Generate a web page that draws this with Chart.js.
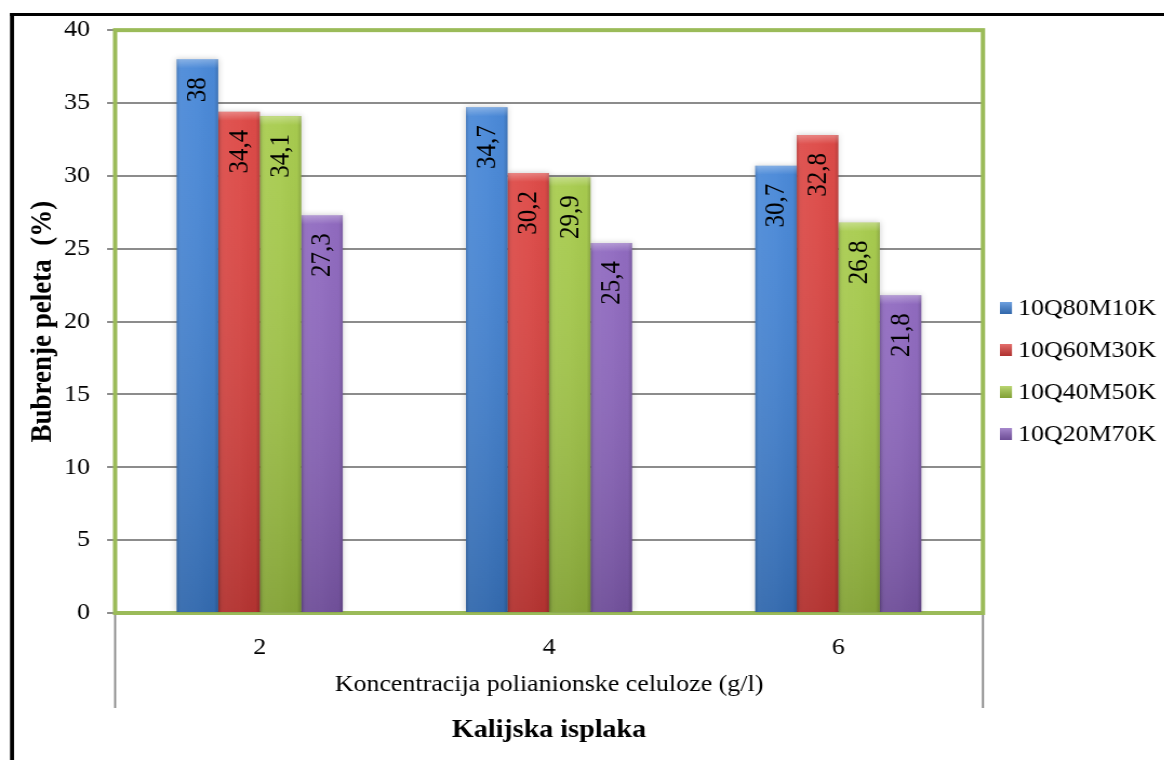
<!DOCTYPE html>
<html>
<head>
<meta charset="utf-8">
<script src="https://cdn.jsdelivr.net/npm/chart.js@4.4.1/dist/chart.umd.min.js"></script>
<style>
  html, body { margin: 0; padding: 0; background: #fff; overflow: hidden; }
  #wrap { position: absolute; left: 0; top: 0; height: 760px; transform-origin: 0 0; }
</style>
</head>
<body>
<div id="wrap"><canvas id="chart"></canvas></div>
<script>
// chart values
const categories = ['2', '4', '6'];
const seriesNames = ['10Q80M10K', '10Q60M30K', '10Q40M50K', '10Q20M70K'];
const q80 = [38, 34.7, 30.7];
const q60 = [34.4, 30.2, 32.8];
const q40 = [34.1, 29.9, 26.8];
const q20 = [27.3, 25.4, 21.8];
const yMin = 0, yMax = 40, yStep = 5;
const yTitle = 'Bubrenje peleta  (%)';
const xTitle = 'Koncentracija polianionske celuloze (g/l)';
const bottomTitle = 'Kalijska isplaka';

const colors = ['#3f82d6', '#dc3f3c', '#a3c944', '#8a62bd'];

// the original picture is a bit stretched sideways, so draw narrow and stretch
const S = 1.08;
const W = 1164 / S;
const wrap = document.getElementById('wrap');
wrap.style.width = W + 'px';
wrap.style.transform = 'scaleX(' + S + ')';

const FONT = "'Liberation Serif', 'Times New Roman', serif";

function fmt(v) {
  return String(v).replace('.', ',');
}

const decor = {
  id: 'decor',
  beforeDraw(chart) {
    const ctx = chart.ctx;
    ctx.save();
    ctx.fillStyle = '#fff';
    ctx.fillRect(0, 0, chart.width, chart.height);
    // black frame, left and top
    ctx.fillStyle = '#000';
    ctx.fillRect(10 / S, 13, 4 / S, chart.height);
    ctx.fillRect(10 / S, 13, chart.width, 3);
    ctx.restore();
  },
  beforeDatasetsDraw(chart) {
    const ctx = chart.ctx;
    const a = chart.chartArea;
    ctx.save();
    // category frame lines under the axis
    ctx.strokeStyle = '#8a8a8a';
    ctx.lineWidth = 2 / S;
    ctx.beginPath();
    ctx.moveTo(a.left, a.bottom);
    ctx.lineTo(a.left, 708);
    ctx.moveTo(a.right, a.bottom);
    ctx.lineTo(a.right, 708);
    ctx.stroke();
    // green plot border
    ctx.strokeStyle = '#9bbb59';
    ctx.lineWidth = 4;
    ctx.strokeRect(a.left, a.top, a.right - a.left, a.bottom - a.top);
    ctx.restore();
    ctx.save();
    ctx.shadowColor = 'rgba(0,0,0,0.2)';
    ctx.shadowBlur = 6;
  },
  afterDatasetsDraw(chart) {
    const ctx = chart.ctx;
    ctx.restore();
    ctx.save();
    chart.data.datasets.forEach((ds, di) => {
      const meta = chart.getDatasetMeta(di);
      meta.data.forEach((bar, i) => {
        const left = bar.x - bar.width / 2;
        const top = bar.y;
        const h = bar.base - bar.y;
        // sideways shading
        let g = ctx.createLinearGradient(left, 0, left + bar.width, 0);
        g.addColorStop(0, 'rgba(0,0,0,0.16)');
        g.addColorStop(0.1, 'rgba(255,255,255,0.06)');
        g.addColorStop(0.5, 'rgba(255,255,255,0.03)');
        g.addColorStop(0.9, 'rgba(0,0,0,0.02)');
        g.addColorStop(1, 'rgba(0,0,0,0.18)');
        ctx.fillStyle = g;
        ctx.fillRect(left, top, bar.width, h);
        // top to bottom shading
        g = ctx.createLinearGradient(0, top, 0, bar.base);
        g.addColorStop(0, 'rgba(255,255,255,0.06)');
        g.addColorStop(1, 'rgba(0,0,0,0.18)');
        ctx.fillStyle = g;
        ctx.fillRect(left, top, bar.width, h);
        // bevel cap
        g = ctx.createLinearGradient(0, top, 0, top + 9);
        g.addColorStop(0, 'rgba(255,255,255,0.3)');
        g.addColorStop(1, 'rgba(255,255,255,0)');
        ctx.fillStyle = g;
        ctx.fillRect(left, top, bar.width, 9);
        // value label, rotated, near the top inside the bar
        ctx.save();
        ctx.translate(bar.x, top + 18);
        ctx.scale(1 / S, 1);
        ctx.rotate(-Math.PI / 2);
        ctx.scale(1, S);
        ctx.fillStyle = '#000';
        ctx.font = '25px ' + FONT;
        ctx.textAlign = 'right';
        ctx.textBaseline = 'middle';
        ctx.fillText(fmt(ds.data[i]), 0, 1);
        ctx.restore();
      });
    });
    ctx.restore();
  },
  afterDraw(chart) {
    const ctx = chart.ctx;
    const a = chart.chartArea;
    ctx.save();
    ctx.fillStyle = '#000';
    // y title
    ctx.save();
    ctx.translate(43 / S, (a.top + a.bottom) / 2);
    ctx.scale(1 / S, 1);
    ctx.rotate(-Math.PI / 2);
    ctx.scale(1, S);
    ctx.font = 'bold 27px ' + FONT;
    ctx.textAlign = 'center';
    ctx.textBaseline = 'middle';
    ctx.fillText(yTitle, 0, 0);
    ctx.restore();
    // x titles
    ctx.textAlign = 'center';
    ctx.textBaseline = 'alphabetic';
    ctx.font = '24px ' + FONT;
    ctx.fillText(xTitle, (a.left + a.right) / 2, 691);
    ctx.font = 'bold 26px ' + FONT;
    ctx.fillText(bottomTitle, (a.left + a.right) / 2, 737);
    // legend
    ctx.font = '24px ' + FONT;
    ctx.textAlign = 'left';
    ctx.textBaseline = 'middle';
    chart.data.datasets.forEach((ds, di) => {
      const cy = 308 + di * 42;
      const x0 = 999 / S;
      ctx.fillStyle = ds.backgroundColor;
      ctx.fillRect(x0, cy - 6, 12 / S, 12);
      const g = ctx.createLinearGradient(0, cy - 6, 0, cy + 6);
      g.addColorStop(0, 'rgba(255,255,255,0.25)');
      g.addColorStop(1, 'rgba(0,0,0,0.2)');
      ctx.fillStyle = g;
      ctx.fillRect(x0, cy - 6, 12 / S, 12);
      ctx.fillStyle = '#000';
      ctx.fillText(ds.label, 1017 / S, cy + 1);
    });
    ctx.restore();
  }
};

const seriesData = [q80, q60, q40, q20];

new Chart(document.getElementById('chart'), {
  type: 'bar',
  data: {
    labels: categories,
    datasets: seriesNames.map((name, k) => ({
      label: name,
      data: seriesData[k],
      backgroundColor: colors[k],
      borderWidth: 0,
      categoryPercentage: 0.574,
      barPercentage: 1.0
    }))
  },
  options: {
    responsive: true,
    maintainAspectRatio: false,
    animation: false,
    layout: { padding: { top: 30, right: 182 / S, left: 0, bottom: 0 } },
    plugins: {
      legend: { display: false },
      tooltip: { enabled: false }
    },
    scales: {
      x: {
        grid: { display: false },
        border: { display: false },
        ticks: { color: '#000', font: { family: FONT, size: 24 }, padding: 12 },
        afterFit: function(scale) { scale.height = 147; }
      },
      y: {
        min: yMin,
        max: yMax,
        ticks: { stepSize: yStep, color: '#000', font: { family: FONT, size: 24 }, padding: 17 / S },
        grid: { color: '#8c8c8c', lineWidth: 2, tickLength: 8 / S },
        border: { display: false },
        afterFit: function(scale) { scale.width = 115 / S; }
      }
    }
  },
  plugins: [decor]
});
</script>
</body>
</html>
